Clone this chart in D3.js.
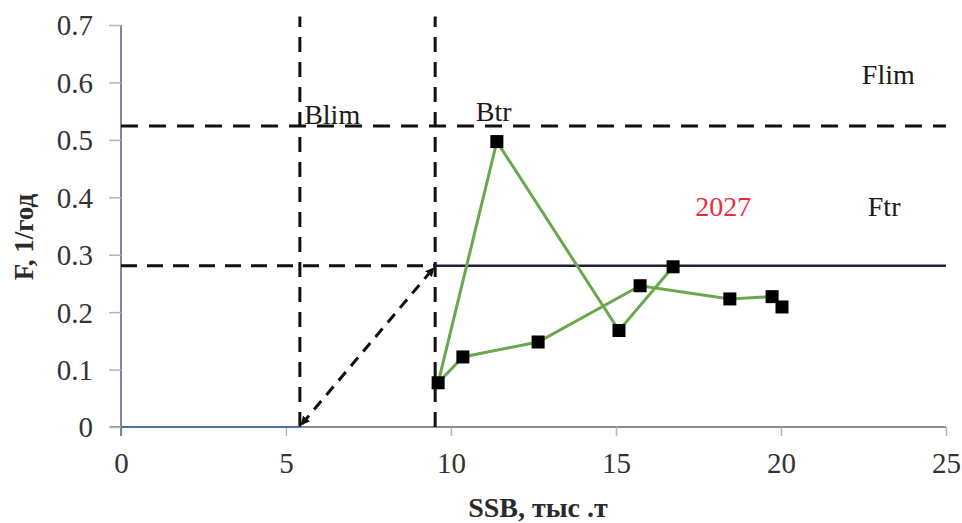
<!DOCTYPE html>
<html>
<head>
<meta charset="utf-8">
<script src="https://cdn.jsdelivr.net/npm/d3@7"></script>
<style>
  body { margin: 0; background: #fff; }
  svg { display: block; }
</style>
</head>
<body>
<svg id="chart" width="962" height="523"></svg>
<script>
// ---- data ----
const ssb = [20.03, 19.73, 18.45, 15.73, 12.64, 10.36, 9.61, 11.39, 15.09, 16.73];
const fVals = [0.209, 0.227, 0.223, 0.246, 0.148, 0.122, 0.077, 0.497, 0.168, 0.279];
const xTicks = [0, 5, 10, 15, 20, 25];
const yTicks = [0, 0.1, 0.2, 0.3, 0.4, 0.5, 0.6, 0.7];
const Blim = 5.42, Btr = 9.52, Flim = 0.524, Ftr = 0.281;
const refLabels = [
  { text: "Blim", x: 5.55, y: 0.527, color: "#1a1a1a" },
  { text: "Btr", x: 10.75, y: 0.533, color: "#1a1a1a" },
  { text: "Flim", x: 22.45, y: 0.597, color: "#1a1a1a" },
  { text: "Ftr", x: 22.63, y: 0.368, color: "#1a1a1a" },
  { text: "2027", x: 17.4, y: 0.368, color: "#ee2b3b" }
];

// ---- drawing ----
const svg = d3.select("#chart");
const x = d3.scaleLinear().domain([0, 25]).range([121, 946]);
const y = d3.scaleLinear().domain([0, 0.7]).range([427, 25]);
const serif = "'Liberation Serif', 'Times New Roman', serif";

// axes
const gx = svg.append("g").attr("transform", `translate(0,${y(0)})`)
  .call(d3.axisBottom(x).tickValues(xTicks).tickSize(9).tickPadding(16).tickFormat(d3.format("d")));
const gy = svg.append("g").attr("transform", `translate(${x(0)},0)`)
  .call(d3.axisLeft(y).tickValues(yTicks).tickSize(12).tickPadding(16)
    .tickFormat(d => d === 0 ? "0" : d3.format(".1f")(d)));
gx.select(".domain").attr("stroke", "#8c8c8c").attr("stroke-width", 2).attr("d", `M${x(0) - 11},0H${x(25)}`);
gy.select(".domain").attr("stroke", "#7b8796").attr("stroke-width", 2).attr("d", `M0,${y(0) + 9}V${y(0.7)}`);
svg.selectAll(".tick line").attr("stroke", "#b5b5b5").attr("stroke-width", 1.5);
svg.selectAll(".tick text").attr("font-family", serif).attr("font-size", 29).attr("fill", "#333");
gy.selectAll(".tick text").attr("dy", "0.34em");
gx.selectAll(".tick text").attr("dy", "0.71em");

// reference lines
const dashed = (x1, y1, x2, y2, dash, w) => svg.append("line")
  .attr("x1", x(x1)).attr("y1", y(y1)).attr("x2", x(x2)).attr("y2", y(y2))
  .attr("stroke", "#111").attr("stroke-width", w).attr("stroke-dasharray", dash);

dashed(0, Flim, 25, Flim, "17,11", 3);
dashed(0, Ftr, Btr, Ftr, "16,10", 3);
dashed(Blim, 0, Blim, 0.715, "15,10", 3);
dashed(Btr, 0, Btr, 0.715, "15,10", 3);

// harvest control rule
svg.append("line").attr("x1", x(0)).attr("y1", y(0)).attr("x2", x(Blim)).attr("y2", y(0))
  .attr("stroke", "#4a6e9e").attr("stroke-width", 2);
svg.append("line").attr("x1", x(Btr)).attr("y1", y(Ftr)).attr("x2", x(25)).attr("y2", y(Ftr))
  .attr("stroke", "#17233a").attr("stroke-width", 2.5);

const defs = svg.append("defs");
defs.append("marker").attr("id", "arr").attr("viewBox", "0 0 10 10")
  .attr("refX", 8).attr("refY", 5).attr("markerWidth", 3).attr("markerHeight", 3)
  .attr("orient", "auto-start-reverse")
  .append("path").attr("d", "M0,0L10,5L0,10z").attr("fill", "#111");
svg.append("line")
  .attr("x1", x(Blim) + 2).attr("y1", y(0) - 3).attr("x2", x(Btr) - 2).attr("y2", y(Ftr) + 3)
  .attr("stroke", "#111").attr("stroke-width", 3).attr("stroke-dasharray", "11,8")
  .attr("marker-start", "url(#arr)").attr("marker-end", "url(#arr)");

// trajectory
const pts = ssb.map((s, i) => [s, fVals[i]]);
svg.append("path").datum(pts)
  .attr("d", d3.line().x(d => x(d[0])).y(d => y(d[1])))
  .attr("fill", "none").attr("stroke", "#6aa84f").attr("stroke-width", 3);
svg.selectAll("rect.pt").data(pts).enter().append("rect").attr("class", "pt")
  .attr("x", d => x(d[0]) - 6.5).attr("y", d => y(d[1]) - 6.5)
  .attr("width", 13).attr("height", 13).attr("fill", "#000");

// labels
svg.selectAll("text.ref").data(refLabels).enter().append("text").attr("class", "ref")
  .attr("x", d => x(d.x)).attr("y", d => y(d.y))
  .attr("font-family", serif).attr("font-size", 28).attr("fill", d => d.color)
  .text(d => d.text);

// axis titles
svg.append("text").attr("x", 538).attr("y", 517).attr("text-anchor", "middle")
  .attr("font-family", serif).attr("font-size", 28).attr("font-weight", "bold").attr("fill", "#2a2a2a")
  .text("SSB, тыс .т");
svg.append("text").attr("transform", "translate(33,237) rotate(-90)").attr("text-anchor", "middle")
  .attr("font-family", serif).attr("font-size", 27).attr("font-weight", "bold").attr("fill", "#2a2a2a")
  .text("F, 1/год");
</script>
</body>
</html>
